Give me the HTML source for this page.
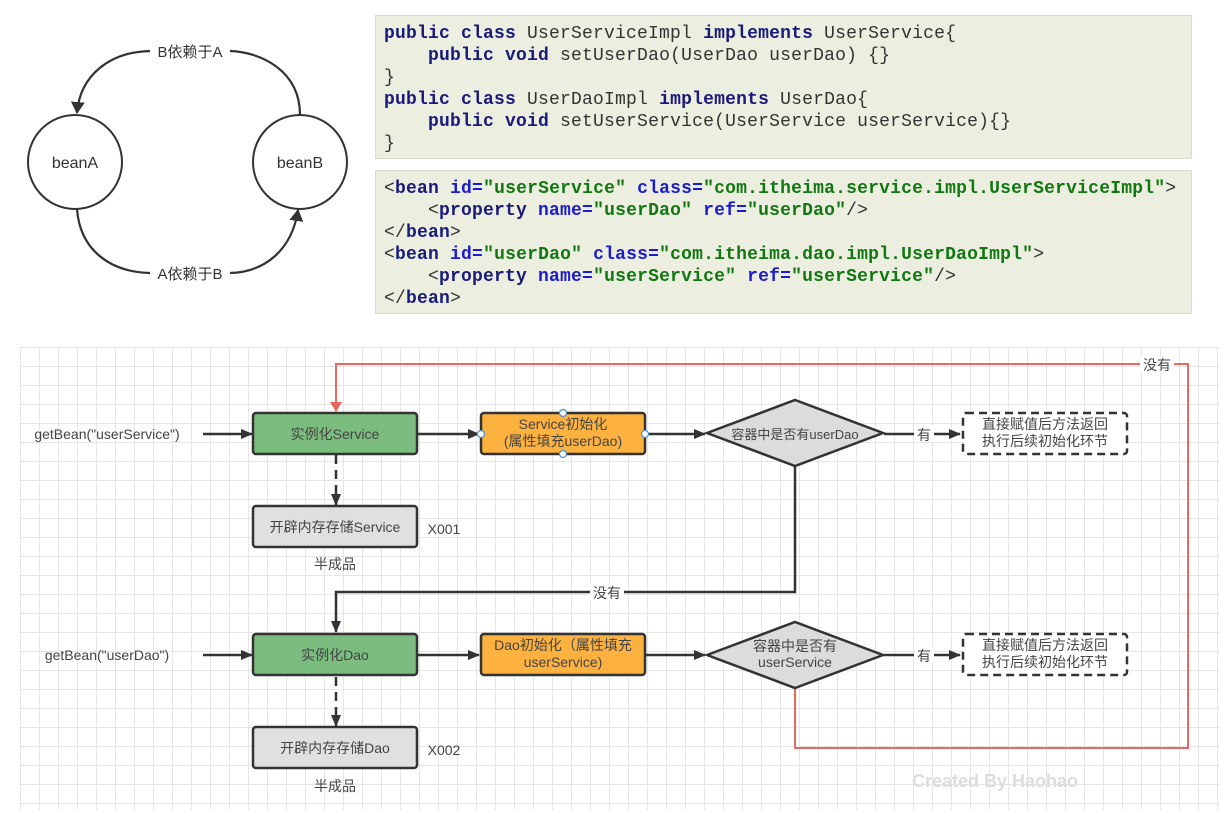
<!DOCTYPE html>
<html><head><meta charset="utf-8"><style>
body{margin:0;width:1220px;height:813px;background:#fff;position:relative;overflow:hidden;font-family:"Liberation Sans","Noto Sans CJK SC",sans-serif}
.code{position:absolute;left:375px;width:817px;background:#eceee0;border:1px solid #dcdccc;box-sizing:border-box;font-family:"Liberation Mono","Noto Sans CJK SC",monospace;font-size:18px;line-height:22px;color:#333;padding:7px 0 0 8px;white-space:pre;letter-spacing:0.2px}
.k{color:#1a1a7a;font-weight:bold}
.a{color:#1b1bd0;font-weight:bold}
.v{color:#117711;font-weight:bold}
.grid{position:absolute;left:20px;top:347px;width:1200px;height:463px;background-image:linear-gradient(#e6e6e6 1px,transparent 1px),linear-gradient(90deg,#e6e6e6 1px,transparent 1px);background-size:19px 19px}
</style></head><body>
<svg style="position:absolute;left:0;top:0" width="370" height="310">
<defs><marker id="ab" markerWidth="12" markerHeight="14" refX="11" refY="7" orient="auto" markerUnits="userSpaceOnUse"><path d="M0,0 L12,7 L0,14z" fill="#333"/></marker></defs>
<circle cx="75" cy="162" r="47" fill="#fff" stroke="#333" stroke-width="2"/>
<circle cx="300" cy="162" r="47" fill="#fff" stroke="#333" stroke-width="2"/>
<path d="M300,115 C300,70 260,52 230,51 M150,51 C110,52 80,75 77,113" fill="none" stroke="#333" stroke-width="2.2" marker-end="url(#ab)"/>
<path d="M77,209 C80,250 110,272 150,273 M230,273 C265,272 292,250 298,210" fill="none" stroke="#333" stroke-width="2.2" marker-end="url(#ab)"/>
<text x="190" y="57" text-anchor="middle" font-size="15" fill="#333">B依赖于A</text>
<text x="190" y="279" text-anchor="middle" font-size="15" fill="#333">A依赖于B</text>
<text x="75" y="168" text-anchor="middle" font-size="16" fill="#333">beanA</text>
<text x="300" y="168" text-anchor="middle" font-size="16" fill="#333">beanB</text>
</svg>
<div class="code" style="top:15px;height:144px"><span class="k">public class</span> UserServiceImpl <span class="k">implements</span> UserService{
    <span class="k">public void</span> setUserDao(UserDao userDao) {}
}
<span class="k">public class</span> UserDaoImpl <span class="k">implements</span> UserDao{
    <span class="k">public void</span> setUserService(UserService userService){}
}</div>
<div class="code" style="top:170px;height:144px">&lt;<span class="k">bean</span> <span class="a">id=</span><span class="v">"userService"</span> <span class="a">class=</span><span class="v">"com.itheima.service.impl.UserServiceImpl"</span>&gt;
    &lt;<span class="k">property</span> <span class="a">name=</span><span class="v">"userDao"</span> <span class="a">ref=</span><span class="v">"userDao"</span>/&gt;
&lt;/<span class="k">bean</span>&gt;
&lt;<span class="k">bean</span> <span class="a">id=</span><span class="v">"userDao"</span> <span class="a">class=</span><span class="v">"com.itheima.dao.impl.UserDaoImpl"</span>&gt;
    &lt;<span class="k">property</span> <span class="a">name=</span><span class="v">"userService"</span> <span class="a">ref=</span><span class="v">"userService"</span>/&gt;
&lt;/<span class="k">bean</span>&gt;</div>
<div class="grid"></div>
<svg style="position:absolute;left:0;top:0" width="1220" height="813" font-size="14" fill="#444">
<defs>
<marker id="m" markerWidth="12" markerHeight="10" refX="11" refY="5" orient="auto" markerUnits="userSpaceOnUse"><path d="M0,0 L12,5 L0,10z" fill="#333"/></marker>
<marker id="mr" markerWidth="10" markerHeight="12" refX="9" refY="6" orient="auto" markerUnits="userSpaceOnUse"><path d="M0,0 L10,6 L0,12z" fill="#e86a5e"/></marker>
</defs>
<g stroke="#333" stroke-width="2.5" fill="none">
<line x1="203" y1="434" x2="252" y2="434" marker-end="url(#m)"/>
<line x1="418" y1="434" x2="479" y2="434" marker-end="url(#m)"/>
<line x1="646" y1="434" x2="705" y2="434" marker-end="url(#m)"/>
<line x1="884" y1="434" x2="960" y2="434" marker-end="url(#m)"/>
<line x1="336" y1="455" x2="336" y2="505" stroke-dasharray="9,6" marker-end="url(#m)"/>
<polyline points="795,466 795,592 336,592 336,632" marker-end="url(#m)"/>
<line x1="203" y1="655" x2="252" y2="655" marker-end="url(#m)"/>
<line x1="418" y1="655" x2="479" y2="655" marker-end="url(#m)"/>
<line x1="646" y1="655" x2="705" y2="655" marker-end="url(#m)"/>
<line x1="884" y1="655" x2="960" y2="655" marker-end="url(#m)"/>
<line x1="336" y1="677" x2="336" y2="726" stroke-dasharray="9,6" marker-end="url(#m)"/>
</g>
<polyline points="795,688 795,748 1188,748 1188,364 336,364 336,411" fill="none" stroke="#e86a5e" stroke-width="2" marker-end="url(#mr)"/>
<rect x="1140" y="356" width="34" height="16" fill="#fff"/><text x="1157" y="370" text-anchor="middle">没有</text>
<rect x="590" y="584" width="34" height="16" fill="#fff"/><text x="607" y="598" text-anchor="middle">没有</text>
<rect x="914" y="426" width="20" height="16" fill="#fff"/><text x="924" y="440" text-anchor="middle">有</text>
<rect x="914" y="647" width="20" height="16" fill="#fff"/><text x="924" y="661" text-anchor="middle">有</text>
<g stroke="#333" stroke-width="2.5">
<rect x="253" y="413" width="164" height="41" rx="3" fill="#7bbd7f"/>
<rect x="481" y="413" width="164" height="41" rx="3" fill="#fdb13f"/>
<polygon points="707,433 795,400 883,433 795,466" fill="#dcdcdc"/>
<rect x="963" y="413" width="164" height="41" rx="3" fill="#fff" stroke-dasharray="8,5"/>
<rect x="253" y="506" width="164" height="41" rx="3" fill="#e0e0e0"/>
<rect x="253" y="634" width="164" height="41" rx="3" fill="#7bbd7f"/>
<rect x="481" y="634" width="164" height="41" rx="3" fill="#fdb13f"/>
<polygon points="707,655 795,622 883,655 795,688" fill="#dcdcdc"/>
<rect x="963" y="634" width="164" height="41" rx="3" fill="#fff" stroke-dasharray="8,5"/>
<rect x="253" y="727" width="164" height="41" rx="3" fill="#e0e0e0"/>
</g>
<g fill="#fff" stroke="#4a90d9" stroke-width="1.2"><circle cx="563" cy="413" r="3.5"/><circle cx="563" cy="454" r="3.5"/><circle cx="481" cy="434" r="3.5"/><circle cx="645" cy="434" r="3.5"/></g>
<g text-anchor="middle">
<text x="107" y="439">getBean("userService")</text>
<text x="335" y="439">实例化Service</text>
<text x="563" y="429">Service初始化</text>
<text x="563" y="446">(属性填充userDao)</text>
<text x="795" y="439" font-size="13">容器中是否有userDao</text>
<text x="1045" y="429">直接赋值后方法返回</text>
<text x="1045" y="446">执行后续初始化环节</text>
<text x="335" y="532">开辟内存存储Service</text>
<text x="444" y="534">X001</text>
<text x="335" y="569">半成品</text>
<text x="107" y="660">getBean("userDao")</text>
<text x="335" y="660">实例化Dao</text>
<text x="563" y="650">Dao初始化（属性填充</text>
<text x="563" y="667">userService)</text>
<text x="795" y="651">容器中是否有</text>
<text x="795" y="667">userService</text>
<text x="1045" y="650">直接赋值后方法返回</text>
<text x="1045" y="667">执行后续初始化环节</text>
<text x="335" y="753">开辟内存存储Dao</text>
<text x="444" y="755">X002</text>
<text x="335" y="791">半成品</text>
<text x="995" y="787" font-size="18" fill="#ddd" font-weight="bold">Created By Haohao</text>
</g>
</svg>
</body></html>
